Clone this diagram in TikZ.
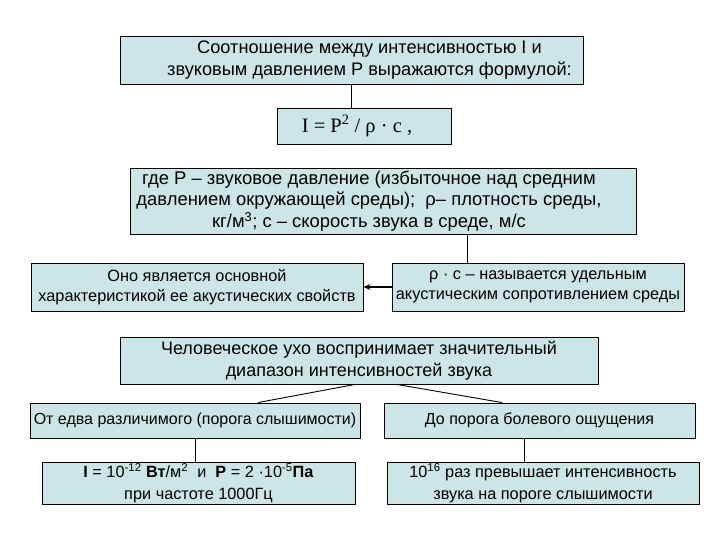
\documentclass[tikz,border=0pt]{standalone}
\usepackage{fontspec}
\setmainfont{Liberation Sans}
\newfontfamily\timesfont{Liberation Serif}
\usetikzlibrary{arrows.meta}
\definecolor{boxfill}{RGB}{204,230,231}

\begin{document}
\begin{tikzpicture}[x=1pt, y=-1pt,
  box/.style={draw, fill=boxfill, line width=0.9pt, align=center, inner sep=0pt},
  link/.style={line width=0.9pt},
  font=\fontsize{16.3}{20}\selectfont]
\useasboundingbox[fill=white] (0,0) rectangle (720,540);
% formula and its explanation
\node[box, minimum width=463, minimum height=48] (ratio) at (351.5,60) {};
\node[align=center, inner sep=0pt, font=\fontsize{18.2}{22}\selectfont] (ratiotext) at ([xshift=18pt]ratio.center)
  {Соотношение между интенсивностью I и\\звуковым давлением Р выражаются формулой:};
\node[box, minimum width=174, minimum height=36] (formula) at (364,126) {};
\node[inner sep=0pt, font=\timesfont\fontsize{20.5}{22}\selectfont] (formtext) at ([xshift=-7pt]formula.center)
  {I = P\textsuperscript{2} / ρ · c ,};
\node[box, minimum width=506, minimum height=66] (where) at (383,201) {};
\node[align=center, inner sep=0pt, font=\fontsize{18.4}{21.5}\selectfont] (wheretext) at ([xshift=-14pt]where.center)
  {где Р – звуковое давление (избыточное над средним\\давлением окружающей среды);\ \ ρ– плотность среды,\\кг/м\textsuperscript{3}; с – скорость звука в среде, м/с};
% impedance
\node[box, minimum width=332, minimum height=48] (main) at (197,287)
  {Оно является основной\\характеристикой ее акустических свойств};
\node[box, minimum width=292, minimum height=48] (imped) at (538,287)
  {ρ · с – называется удельным\\акустическим сопротивлением среды};
% range of the ear
\node[box, minimum width=478, minimum height=47, font=\fontsize{18}{22}\selectfont] (ear) at (359,360.5)
  {Человеческое ухо воспринимает значительный\\диапазон интенсивностей звука};
\node[box, minimum width=330, minimum height=35, font=\fontsize{16}{20}\selectfont] (from) at (195,420.5)
  {От едва различимого (порога слышимости)};
\node[box, minimum width=311, minimum height=35, font=\fontsize{16}{20}\selectfont] (upto) at (539.5,420.5)
  {До порога болевого ощущения};
\node[box, minimum width=313, minimum height=42, font=\fontsize{16.3}{22}\selectfont] (thresh) at (198.5,483)
  {\textbf{I} = 10\textsuperscript{-12} \textbf{Вт}/м\textsuperscript{2}\ \ и\ \ \textbf{Р} = 2 ·10\textsuperscript{-5}\textbf{Па}\\при частоте 1000Гц};
\node[box, minimum width=312, minimum height=42, font=\fontsize{16.3}{22}\selectfont] (pain) at (543,483)
  {10\textsuperscript{16} раз превышает интенсивность\\звука на пороге слышимости};
% connectors
\draw[link] (ratio.south) -- (ratio.south |- formula.north);
\draw[link] ([xshift=76pt]imped.north west) -- ([xshift=76pt]imped.north west |- where.south);
\draw[link, -{Stealth[length=7pt, width=6pt]}, line width=1.6pt] (imped.west) -- (main.east);
\draw[link] ([xshift=-4pt]ear.south) -- ([xshift=63pt]from.north);
\draw[link] ([xshift=38pt]ear.south) -- ([xshift=-37.5pt]upto.north);
\draw[link] (from.south) -- (from.south |- thresh.north);
\draw[link] ([xshift=-15.5pt]upto.south) -- ([xshift=-15.5pt]upto.south |- pain.north);
\end{tikzpicture}
\end{document}
